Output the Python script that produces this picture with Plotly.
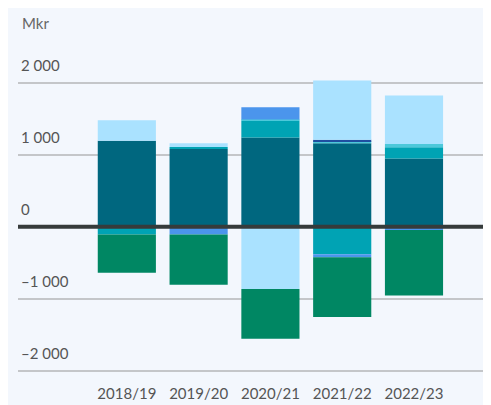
import plotly.graph_objects as go

categories = ["2018/19", "2019/20", "2020/21", "2021/22", "2022/23"]
dark_teal = [1195, 1081, 1239, 1158, 946]
teal = [-109, 27, 234, -382, 157]
light_cyan = [0, 0, 15, 30, 45]
navy = [0, 0, 0, 19, 0]
light_blue = [284, 50, -864, 823, 675]
blue = [0, -109, 172, -41, -45]
green = [-532, -696, -691, -832, -910]

y_ticks = [-2000, -1000, 0, 1000, 2000]
y_tick_text = ["–2 000", "–1 000", "0", "1 000", "2 000"]
unit_label = "Mkr"

series = [
    ("Serie 1", dark_teal, "#00677F"),
    ("Serie 2", teal, "#00A3B4"),
    ("Serie 3", light_cyan, "#4DC8DA"),
    ("Serie 4", navy, "#1F4FA0"),
    ("Serie 5", light_blue, "#AAE2FF"),
    ("Serie 6", blue, "#4B95EC"),
    ("Serie 7", green, "#008763"),
]

fig = go.Figure()
for name, vals, color in series:
    fig.add_trace(go.Bar(
        x=list(range(len(categories))), y=vals, name=name,
        marker=dict(color=color, line=dict(width=0)),
        width=0.81,
    ))

bg = "#F3F7FD"
fig.update_layout(
    barmode="relative",
    width=491, height=405,
    margin=dict(l=10, r=0, t=22, b=35),
    paper_bgcolor=bg, plot_bgcolor=bg,
    showlegend=False,
    font=dict(family="Lato", size=15, color="#555555"),
    xaxis=dict(
        range=[-1.516, 5.184],
        tickvals=list(range(len(categories))), ticktext=categories,
        ticklabelstandoff=5,
        showgrid=False, zeroline=False, showline=False, ticks="",
        tickfont=dict(size=15, color="#555555"),
    ),
    yaxis=dict(
        range=[-2101, 2732],
        tickvals=y_ticks, ticktext=y_tick_text,
        ticklabelposition="inside top",
        ticklabelshift=-6,
        showgrid=True, gridcolor="#C4C6C9", gridwidth=1.5,
        zeroline=False, showline=False, ticks="",
        tickfont=dict(size=15, color="#555555"),
    ),
    shapes=[dict(type="line", xref="paper", x0=0, x1=1, yref="y", y0=0, y1=0,
                 line=dict(color="#363B3B", width=4), layer="above")],
    annotations=[dict(text=unit_label, xref="paper", yref="paper", x=0.005, y=1.0,
                      xanchor="left", yanchor="bottom", yshift=-4, showarrow=False,
                      font=dict(size=15, color="#666666"))],
)

fig.write_html("out.html")
